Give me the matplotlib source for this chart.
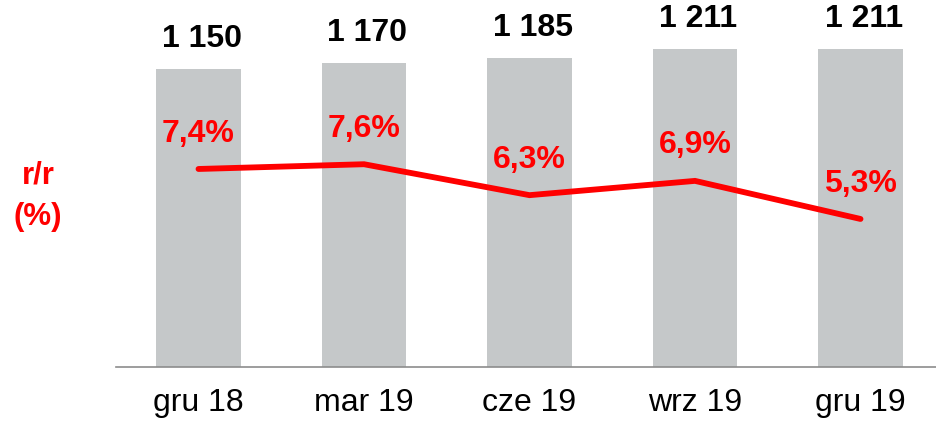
import matplotlib
matplotlib.use("Agg")
import matplotlib.pyplot as plt

categories = ["gru 18", "mar 19", "cze 19", "wrz 19", "gru 19"]
bar_values = [1150, 1170, 1185, 1211, 1211]
bar_labels = ["1 150", "1 170", "1 185", "1 211", "1 211"]
yoy_values = [7.4, 7.6, 6.3, 6.9, 5.3]
yoy_labels = ["7,4%", "7,6%", "6,3%", "6,9%", "5,3%"]

plt.rcParams['font.family'] = ['Liberation Sans', 'DejaVu Sans']

W, H = 936, 423
fig = plt.figure(figsize=(W / 100, H / 100), dpi=100)
left_px, right_px = 115.75, 943.25
bottom_px = 423 - 367
ax = fig.add_axes([left_px / W, bottom_px / H, (right_px - left_px) / W, 367 / H])

x = list(range(len(categories)))
ax.bar(x, bar_values, width=0.51, color="#C5C8C9", zorder=1)
ax.set_xlim(-0.5, 4.5)
ax.set_ylim(242, 1361)
for s in ["top", "right", "left"]:
    ax.spines[s].set_visible(False)
ax.spines["bottom"].set_color("#8C8C8C")
ax.spines["bottom"].set_linewidth(1.2)
ax.set_yticks([])
ax.set_xticks(x)
ax.set_xticklabels(categories, fontsize=23, color="black")
ax.tick_params(axis="x", length=0, pad=15)

for xi, v, lab in zip(x, bar_values, bar_labels):
    ax.annotate(lab, (xi, v), xytext=(2.5, 21.5), textcoords="offset points",
                ha="center", va="center", fontsize=23, fontweight="bold", color="black")

ax2 = ax.twinx()
ax2.set_ylim(-0.92, 14.5)
ax2.plot(x, yoy_values, color="#FF0000", linewidth=4.2, solid_capstyle="round",
         solid_joinstyle="miter", zorder=3)
ax2.axis("off")
for xi, v, lab in zip(x, yoy_values, yoy_labels):
    ax2.annotate(lab, (xi, v), xytext=(0, 25.5), textcoords="offset points",
                 ha="center", va="center", fontsize=23, fontweight="bold", color="#FF0000")

fig.text(38 / W, 1 - 196 / H, "r/r\n(%)", ha="center", va="center", fontsize=22.5,
         fontweight="bold", color="#FF0000", linespacing=1.5)

fig.savefig("out.png", dpi=100)
